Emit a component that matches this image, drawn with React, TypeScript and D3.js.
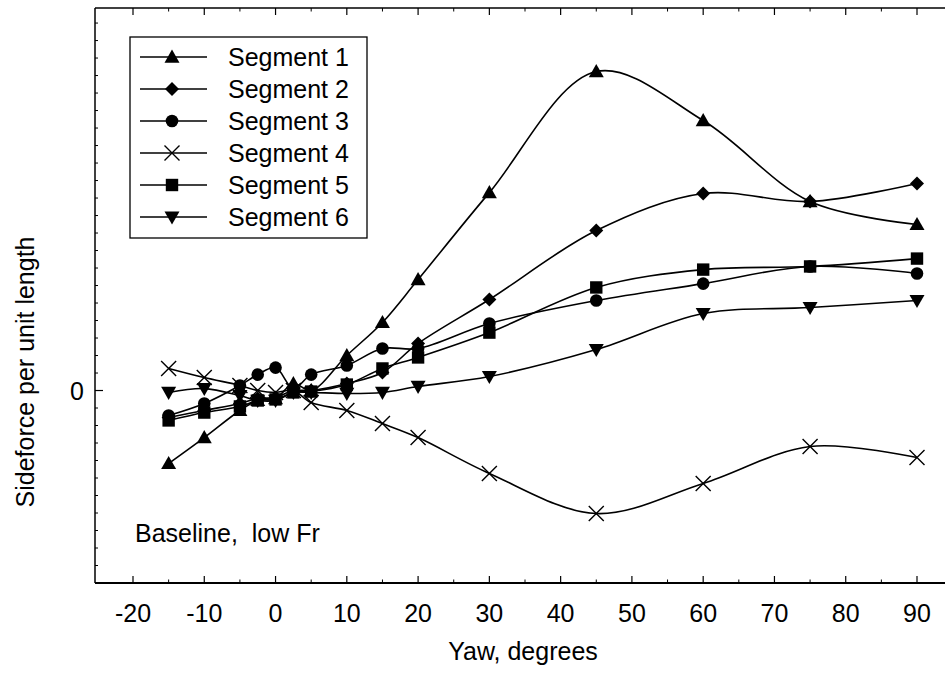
import React from "react";
import * as d3 from "d3";

const yaw = [-15, -10, -5, -2.5, 0, 2.5, 5, 10, 15, 20, 30, 45, 60, 75, 90];
const seg1 = [-4.17, -2.69, -1.14, -0.57, -0.46, 0.4, 0.0, 2.0, 3.89, 6.34, 11.31, 18.23, 15.43, 10.8, 9.49];
const seg2 = [-1.54, -1.14, -0.74, -0.46, -0.4, 0.0, 0.0, 0.4, 1.03, 2.69, 5.2, 9.14, 11.26, 10.8, 11.83];
const seg3 = [-1.43, -0.74, 0.29, 0.91, 1.31, 0.11, 0.91, 1.43, 2.4, 2.4, 3.83, 5.14, 6.11, 7.09, 6.69];
const seg4 = [1.26, 0.74, 0.29, 0.0, -0.11, 0.0, -0.69, -1.14, -1.89, -2.69, -4.74, -7.03, -5.31, -3.2, -3.83];
const seg5 = [-1.71, -1.26, -0.91, -0.57, -0.51, -0.11, -0.06, 0.34, 1.26, 1.89, 3.31, 5.89, 6.91, 7.09, 7.54];
const seg6 = [-0.11, 0.11, -0.29, -0.57, -0.57, -0.11, -0.11, -0.17, -0.11, 0.23, 0.8, 2.34, 4.4, 4.74, 5.14];

const seriesNames = ["Segment 1", "Segment 2", "Segment 3", "Segment 4", "Segment 5", "Segment 6"];
const seriesValues = [seg1, seg2, seg3, seg4, seg5, seg6];
const markerKinds = ["triangle", "diamond", "circle", "x", "square", "triangleDown"];

const xTickLabels = [-20, -10, 0, 10, 20, 30, 40, 50, 60, 70, 80, 90];
const yTickLabels = [0];
const annotation = "Baseline,  low Fr";
const xTitle = "Yaw, degrees";
const yTitle = "Sideforce per unit length";

const W = 945;
const H = 673;
const left = 95;
const top = 8;
const bottom = 583;
const right = 945;

const FONT = "'Liberation Sans', Arial, Helvetica, sans-serif";

function Marker({ kind, x, y }: { kind: string; x: number; y: number }) {
  const t = `translate(${x},${y})`;
  switch (kind) {
    case "triangle": {
      const s = 7.5;
      return <path transform={t} d={`M0,${-s}L${s},${s * 0.75}L${-s},${s * 0.75}Z`} fill="#000" />;
    }
    case "triangleDown": {
      const s = 7.5;
      return <path transform={t} d={`M0,${s}L${s},${-s * 0.75}L${-s},${-s * 0.75}Z`} fill="#000" />;
    }
    case "diamond": {
      const s = 7;
      return <path transform={t} d={`M0,${-s}L${s},0L0,${s}L${-s},0Z`} fill="#000" />;
    }
    case "circle":
      return <circle cx={x} cy={y} r={6.3} fill="#000" />;
    case "square": {
      const s = 6.2;
      return <rect x={x - s} y={y - s} width={2 * s} height={2 * s} fill="#000" />;
    }
    case "x": {
      const s = 7.5;
      return (
        <path
          transform={t}
          d={`M${-s},${-s}L${s},${s}M${-s},${s}L${s},${-s}`}
          stroke="#000"
          strokeWidth={1.4}
          fill="none"
        />
      );
    }
  }
  return null;
}

export default function App() {
  const x = d3.scaleLinear().domain([-20, 90]).range([133, 917]);
  const y = d3.scaleLinear().domain([-11, 21.86]).range([bottom, top]);

  const line = d3
    .line<number>()
    .x((_, i) => x(yaw[i]))
    .y((d) => y(d))
    .curve(d3.curveCatmullRom.alpha(0.5));

  const xMinor = d3.range(-20, 91, 5).filter((v) => v % 10 !== 0);
  const yMinor = d3.range(-11, 22, 1).filter((v) => v !== 0);

  const legendRows = seriesNames.map((n, i) => ({ n, i }));

  return (
    <svg
      width={W}
      height={H}
      style={{ position: "absolute", left: 0, top: 0, background: "#fff" }}
      fontFamily={FONT}
    >
      <rect x={0} y={0} width={W} height={H} fill="#fff" />
      {/* frame */}
      <line x1={left} x2={right} y1={top} y2={top} stroke="#000" strokeWidth={1.5} />
      <line x1={left} x2={right} y1={bottom} y2={bottom} stroke="#000" strokeWidth={2} />
      <line x1={left} x2={left} y1={top} y2={bottom} stroke="#000" strokeWidth={1.5} />

      {/* x ticks */}
      {xTickLabels.map((v) => (
        <g key={"xt" + v}>
          <line x1={x(v)} x2={x(v)} y1={bottom} y2={bottom - 7} stroke="#000" strokeWidth={1.2} />
          <line x1={x(v)} x2={x(v)} y1={top} y2={top + 7} stroke="#000" strokeWidth={1.2} />
          <text x={x(v)} y={622} textAnchor="middle" fontSize={25} fill="#000">
            {v}
          </text>
        </g>
      ))}
      {xMinor.map((v) => (
        <g key={"xm" + v}>
          <line x1={x(v)} x2={x(v)} y1={bottom} y2={bottom - 3.5} stroke="#000" strokeWidth={1} />
          <line x1={x(v)} x2={x(v)} y1={top} y2={top + 3.5} stroke="#000" strokeWidth={1} />
        </g>
      ))}
      {/* y ticks */}
      {yMinor.map((v) => (
        <line key={"ym" + v} x1={left} x2={left + 3} y1={y(v)} y2={y(v)} stroke="#000" strokeWidth={1} />
      ))}
      {yTickLabels.map((v) => (
        <g key={"yt" + v}>
          <line x1={left} x2={left + 8} y1={y(v)} y2={y(v)} stroke="#000" strokeWidth={1.2} />
          <text x={77} y={y(v) + 9} textAnchor="middle" fontSize={25} fill="#000">
            {v}
          </text>
        </g>
      ))}

      {/* axis titles */}
      <text x={523} y={660} textAnchor="middle" fontSize={25} fill="#000">
        {xTitle}
      </text>
      <text
        transform={`translate(34,372) rotate(-90)`}
        textAnchor="middle"
        fontSize={25}
        fill="#000"
      >
        {yTitle}
      </text>

      {/* series */}
      {seriesValues.map((vals, si) => (
        <g key={"s" + si}>
          <path d={line(vals) || ""} fill="none" stroke="#000" strokeWidth={1.6} />
          {vals.map((v, i) => (
            <Marker key={i} kind={markerKinds[si]} x={x(yaw[i])} y={y(v)} />
          ))}
        </g>
      ))}

      {/* legend */}
      <rect x={130} y={37} width={237} height={201} fill="#fff" stroke="#000" strokeWidth={1.3} />
      {legendRows.map(({ n, i }) => {
        const cy = 57 + i * 32;
        return (
          <g key={"lg" + i}>
            <line x1={140} x2={207} y1={cy} y2={cy} stroke="#000" strokeWidth={1.6} />
            <Marker kind={markerKinds[i]} x={172} y={cy} />
            <text x={228} y={cy + 9} fontSize={25} fill="#000">
              {n}
            </text>
          </g>
        );
      })}

      {/* annotation */}
      <text x={135} y={542} fontSize={25} fill="#000" style={{ whiteSpace: "pre" }}>
        {annotation}
      </text>
    </svg>
  );
}
